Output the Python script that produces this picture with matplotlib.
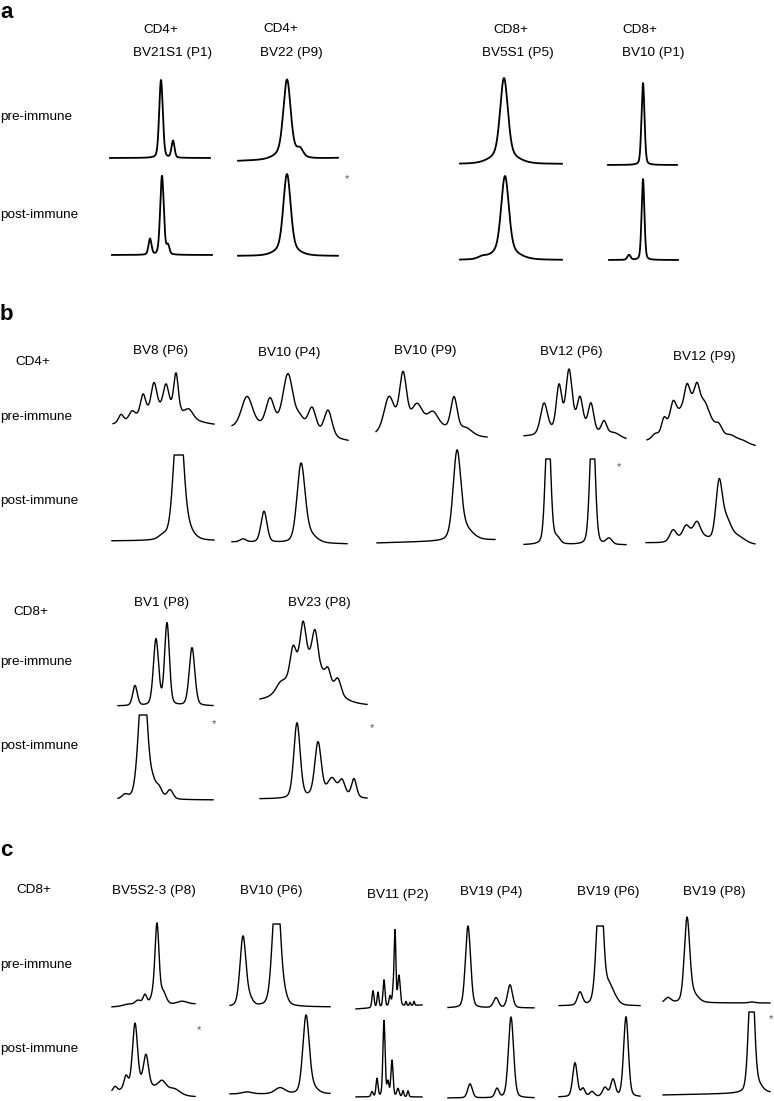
import numpy as np
import matplotlib.pyplot as plt

plt.rcParams['font.family'] = ['Liberation Sans', 'DejaVu Sans']

W, H = 774, 1101

# each trace: list of peaks (position, height, width),
# position in px along the trace, height in px above the baseline

# --- panel a ---
a_bv21s1_pre = [(51, 78, 1.8), (63, 17, 1.5)]
a_bv21s1_post = [(38, 16, 1.5), (50, 79, 1.8), (56, 9, 1.4)]
a_bv22_pre = [(49, 72, 3.6), (62, 7, 3.0), (49, 8, 10)]
a_bv22_post = [(49, 74, 3.6), (49, 8, 10)]
a_bv5s1_pre = [(44, 76, 3.8), (44, 10, 12)]
a_bv5s1_post = [(22, 2, 4), (45, 74, 3.8), (45, 10, 12)]
a_bv10_pre = [(35, 82, 1.5)]
a_bv10_post = [(20, 5, 1.6), (34, 81, 1.4)]

# --- panel b, CD4+ ---
b_bv8_pre = [(8, 8, 2.5), (19, 8, 3), (30, 20, 2.6), (41, 27, 2.8), (53, 24, 2.8),
             (63, 38, 2.3), (76, 8, 4), (50, 17, 22)]
b_bv8_post = [(51, 4, 4), (66.5, 140, 4.5), (75, 10, 6)]
b_bv10p4_pre = [(15, 30, 5.5), (38, 26, 4), (56, 52, 5), (68, 10, 4), (80, 24, 4), (96, 26, 4), (50, 9, 30)]
b_bv10p4_post = [(11, 3, 3), (32, 31, 3), (69, 76, 4), (77, 8, 7)]
b_bv10p9_pre = [(13, 33, 5), (27, 52, 3.5), (41, 18, 5), (57, 12, 5), (78, 33, 3.2), (90, 6, 6), (45, 16, 28)]
b_bv10p9_post = [(80, 83, 3.8), (87, 12, 8)]
b_bv12p6_pre = [(20, 30, 3.5), (35, 42, 2.7), (45, 54, 3.0), (56, 27, 2.7), (67, 26, 2.7),
                (80, 13, 2.7), (90, 5, 6), (50, 14, 18)]
b_bv12p6_post = [(24, 130, 2.6), (33, 6, 3), (68.5, 130, 2.6), (85, 6, 3)]
b_bv12p9_pre = [(8, 4, 3), (17, 14, 2.5), (26, 20, 3), (40, 18, 2.5), (50, 17, 2.5), (58, 8, 4),
                (72, 7, 3), (84, 5, 5), (95, 4, 6), (46, 45, 17)]
b_bv12p9_post = [(27, 11, 3.2), (40, 10, 3.2), (51, 12, 3.2), (73, 55, 3.2), (80, 22, 5),
                 (92, 7, 7), (48, 10, 12)]

# --- panel b, CD8+ ---
b_bv1_pre = [(17, 20, 2.3), (38, 66, 2.6), (49, 82, 2.4), (74, 58, 2.8)]
b_bv1_post = [(7, 4, 3), (25, 130, 4.2), (35, 12, 3), (41, 10, 3), (52, 9, 3)]
b_bv23_pre = [(20, 6, 4), (33, 25, 2.8), (43, 38, 2.8), (55, 32, 2.8), (68, 12, 2.5), (78, 14, 3), (48, 45, 18)]
b_bv23_post = [(37, 75, 3.2), (58, 52, 3.2), (72, 14, 4), (82, 14, 3), (94, 18, 2.5), (70, 6, 15)]

# --- panel c ---
c_bv5s23_pre = [(16, 2, 5), (26, 5, 3), (33, 10, 2), (41, 8, 2.5), (45, 78, 2), (51, 12, 3), (70, 3, 5)]
c_bv5s23_post = [(3, 5, 2), (14, 12, 2), (23, 62, 2.5), (34, 30, 2.5), (50, 10, 4), (62, 6, 6), (30, 10, 15)]
c_bv10_pre = [(13, 70, 3), (20, 6, 3), (46.5, 130, 3.8), (55, 6, 3)]
c_bv10_post = [(17, 2, 5), (50, 6, 5), (76, 76, 3.2), (82, 6, 5)]
c_bv11_pre = [(17, 17, 1), (22, 15, 0.9), (28, 27, 1), (34, 10, 1), (37, 12, 0.8), (39, 75, 0.9),
              (43, 30, 1.2), (50, 4, 0.6), (54, 3, 0.6), (58, 4, 0.6)]
c_bv11_post = [(16, 5, 1), (21, 18, 1), (28, 76, 1.1), (32, 14, 1), (36, 36, 1.1), (42, 8, 1.2),
               (47, 6, 0.8), (52, 6, 0.8)]
c_bv19p4_pre = [(20, 82, 2.6), (48, 10, 2.5), (62, 23, 2.5)]
c_bv19p4_post = [(22, 14, 2.3), (49, 9, 2), (63, 81, 2.6)]
c_bv19p6_pre = [(21, 13, 2.5), (41, 130, 3.3), (50, 14, 3), (55, 8, 4)]
c_bv19p6_post = [(16, 34, 2.3), (24, 8, 2), (33, 5, 2.5), (46, 9, 2.5), (54, 17, 2.3), (67, 80, 2.4)]
c_bv19p8_pre = [(5, 5, 3), (24, 82, 2.7), (30, 8, 5), (89, 1, 3)]
c_bv19p8_post = [(88.5, 130, 2.8), (96, 6, 4)]

# baseline drift (start, end) and detector saturation level, where there is one
drift = {'a_bv22_pre': (-1, 2), 'b_bv10p4_pre': (12, 0), 'b_bv10p4_post': (2, 0),
         'b_bv10p9_post': (0, 3), 'b_bv12p6_pre': (3, 0), 'b_bv12p9_pre': (4, 0),
         'b_bv12p9_post': (2, 0), 'b_bv23_pre': (4, 0), 'c_bv5s23_pre': (0, 3),
         'c_bv5s23_post': (3, 0), 'c_bv11_pre': (0, 4), 'c_bv19p8_post': (0, 2)}
clip = {'b_bv8_post': 86, 'b_bv12p6_post': 86, 'b_bv1_post': 85, 'c_bv10_pre': 83,
        'c_bv19p6_pre': 80, 'c_bv19p8_post': 83}

# layout: trace -> (left px, right px, baseline px)
layout = [
    ('a_bv21s1_pre', a_bv21s1_pre, 110, 210, 158), ('a_bv21s1_post', a_bv21s1_post, 112, 212, 255),
    ('a_bv22_pre', a_bv22_pre, 238, 338, 160), ('a_bv22_post', a_bv22_post, 238, 338, 256),
    ('a_bv5s1_pre', a_bv5s1_pre, 460, 562, 164), ('a_bv5s1_post', a_bv5s1_post, 460, 562, 260),
    ('a_bv10_pre', a_bv10_pre, 608, 677, 165), ('a_bv10_post', a_bv10_post, 609, 678, 260),
    ('b_bv8_pre', b_bv8_pre, 113, 214, 426), ('b_bv8_post', b_bv8_post, 112, 214, 541),
    ('b_bv10p4_pre', b_bv10p4_pre, 232, 348, 442), ('b_bv10p4_post', b_bv10p4_post, 232, 347, 544),
    ('b_bv10p9_pre', b_bv10p9_pre, 376, 487, 439), ('b_bv10p9_post', b_bv10p9_post, 377, 495, 543),
    ('b_bv12p6_pre', b_bv12p6_pre, 524, 626, 440), ('b_bv12p6_post', b_bv12p6_post, 524, 626, 545),
    ('b_bv12p9_pre', b_bv12p9_pre, 647, 755, 447), ('b_bv12p9_post', b_bv12p9_post, 646, 755, 545),
    ('b_bv1_pre', b_bv1_pre, 118, 213, 706), ('b_bv1_post', b_bv1_post, 118, 213, 800),
    ('b_bv23_pre', b_bv23_pre, 260, 367, 706), ('b_bv23_post', b_bv23_post, 260, 367, 799),
    ('c_bv5s23_pre', c_bv5s23_pre, 112, 195, 1007), ('c_bv5s23_post', c_bv5s23_post, 112, 195, 1097),
    ('c_bv10_pre', c_bv10_pre, 230, 330, 1007), ('c_bv10_post', c_bv10_post, 230, 330, 1094),
    ('c_bv11_pre', c_bv11_pre, 356, 422, 1009), ('c_bv11_post', c_bv11_post, 356, 422, 1097),
    ('c_bv19p4_pre', c_bv19p4_pre, 448, 534, 1008), ('c_bv19p4_post', c_bv19p4_post, 448, 534, 1098),
    ('c_bv19p6_pre', c_bv19p6_pre, 559, 640, 1006), ('c_bv19p6_post', c_bv19p6_post, 559, 640, 1097),
    ('c_bv19p8_pre', c_bv19p8_pre, 663, 770, 1003), ('c_bv19p8_post', c_bv19p8_post, 663, 770, 1095),
]

# text: (string, x px, y px, size, weight)
labels = [
    ('a', 0, 13, 16, 'bold'), ('b', 0, 314, 16, 'bold'), ('c', 0, 850, 16, 'bold'),
    ('CD4+', 143, 30, 9.7, 'normal'), ('BV21S1 (P1)', 133, 53, 9.7, 'normal'),
    ('CD4+', 263, 29, 9.7, 'normal'), ('BV22 (P9)', 260, 53, 9.7, 'normal'),
    ('CD8+', 493, 30, 9.7, 'normal'), ('BV5S1 (P5)', 482, 53, 9.7, 'normal'),
    ('CD8+', 622, 30, 9.7, 'normal'), ('BV10 (P1)', 622, 53, 9.7, 'normal'),
    ('pre-immune', 0, 117, 9.7, 'normal'), ('post-immune', 0, 215, 9.7, 'normal'),
    ('CD4+', 15, 362, 9.7, 'normal'),
    ('BV8 (P6)', 133, 351, 9.7, 'normal'), ('BV10 (P4)', 258, 353, 9.7, 'normal'),
    ('BV10 (P9)', 394, 351, 9.7, 'normal'), ('BV12 (P6)', 540, 352, 9.7, 'normal'),
    ('BV12 (P9)', 673, 357, 9.7, 'normal'),
    ('pre-immune', 0, 417, 9.7, 'normal'), ('post-immune', 0, 501, 9.7, 'normal'),
    ('CD8+', 13, 612, 9.7, 'normal'), ('BV1 (P8)', 134, 603, 9.7, 'normal'),
    ('BV23 (P8)', 288, 603, 9.7, 'normal'),
    ('pre-immune', 0, 662, 9.7, 'normal'), ('post-immune', 0, 746, 9.7, 'normal'),
    ('CD8+', 16, 890, 9.7, 'normal'), ('BV5S2-3 (P8)', 112, 891, 9.7, 'normal'),
    ('BV10 (P6)', 240, 891, 9.7, 'normal'), ('BV11 (P2)', 367, 895, 9.7, 'normal'),
    ('BV19 (P4)', 460, 892, 9.7, 'normal'), ('BV19 (P6)', 577, 892, 9.7, 'normal'),
    ('BV19 (P8)', 683, 892, 9.7, 'normal'),
    ('pre-immune', 0, 965, 9.7, 'normal'), ('post-immune', 0, 1049, 9.7, 'normal'),
]
stars = [(347, 179), (619, 467), (214, 724), (372, 728), (199, 1030), (771, 1019)]


def profile(x, peaks, eta=0.25):
    y = np.zeros_like(x)
    for c, h, s in peaks:
        g = np.exp(-0.5 * ((x - c) / s) ** 2)
        lor = 1 / (1 + ((x - c) / (1.177 * s)) ** 2)
        y += h * ((1 - eta) * g + eta * lor)
    return y


fig = plt.figure(figsize=(W / 100, H / 100), dpi=100)

for name, peaks, x0, x1, yb in layout:
    w = x1 - x0
    ax = fig.add_axes([x0 / W, 1 - yb / H, w / W, 100 / H])
    x = np.linspace(0, w, 600)
    y = profile(x, peaks)
    d0, d1 = drift.get(name, (0, 0))
    y = y + d0 + (d1 - d0) * x / w
    if name in clip:
        y = np.minimum(y, clip[name])
    lw = 1.3 if name.startswith('a_') else 1.0
    ax.plot(x, y, color='black', lw=lw, clip_on=False)
    ax.set_xlim(0, w)
    ax.set_ylim(0, 100)
    ax.axis('off')

for s, x, y, size, weight in labels:
    fig.text(x / W, 1 - y / H, s, fontsize=size, fontweight=weight, ha='left', va='center')

for x, y in stars:
    fig.text(x / W, 1 - y / H, '*', fontsize=8, color='#555555', ha='center', va='center')

fig.savefig('out.png', dpi=100)
